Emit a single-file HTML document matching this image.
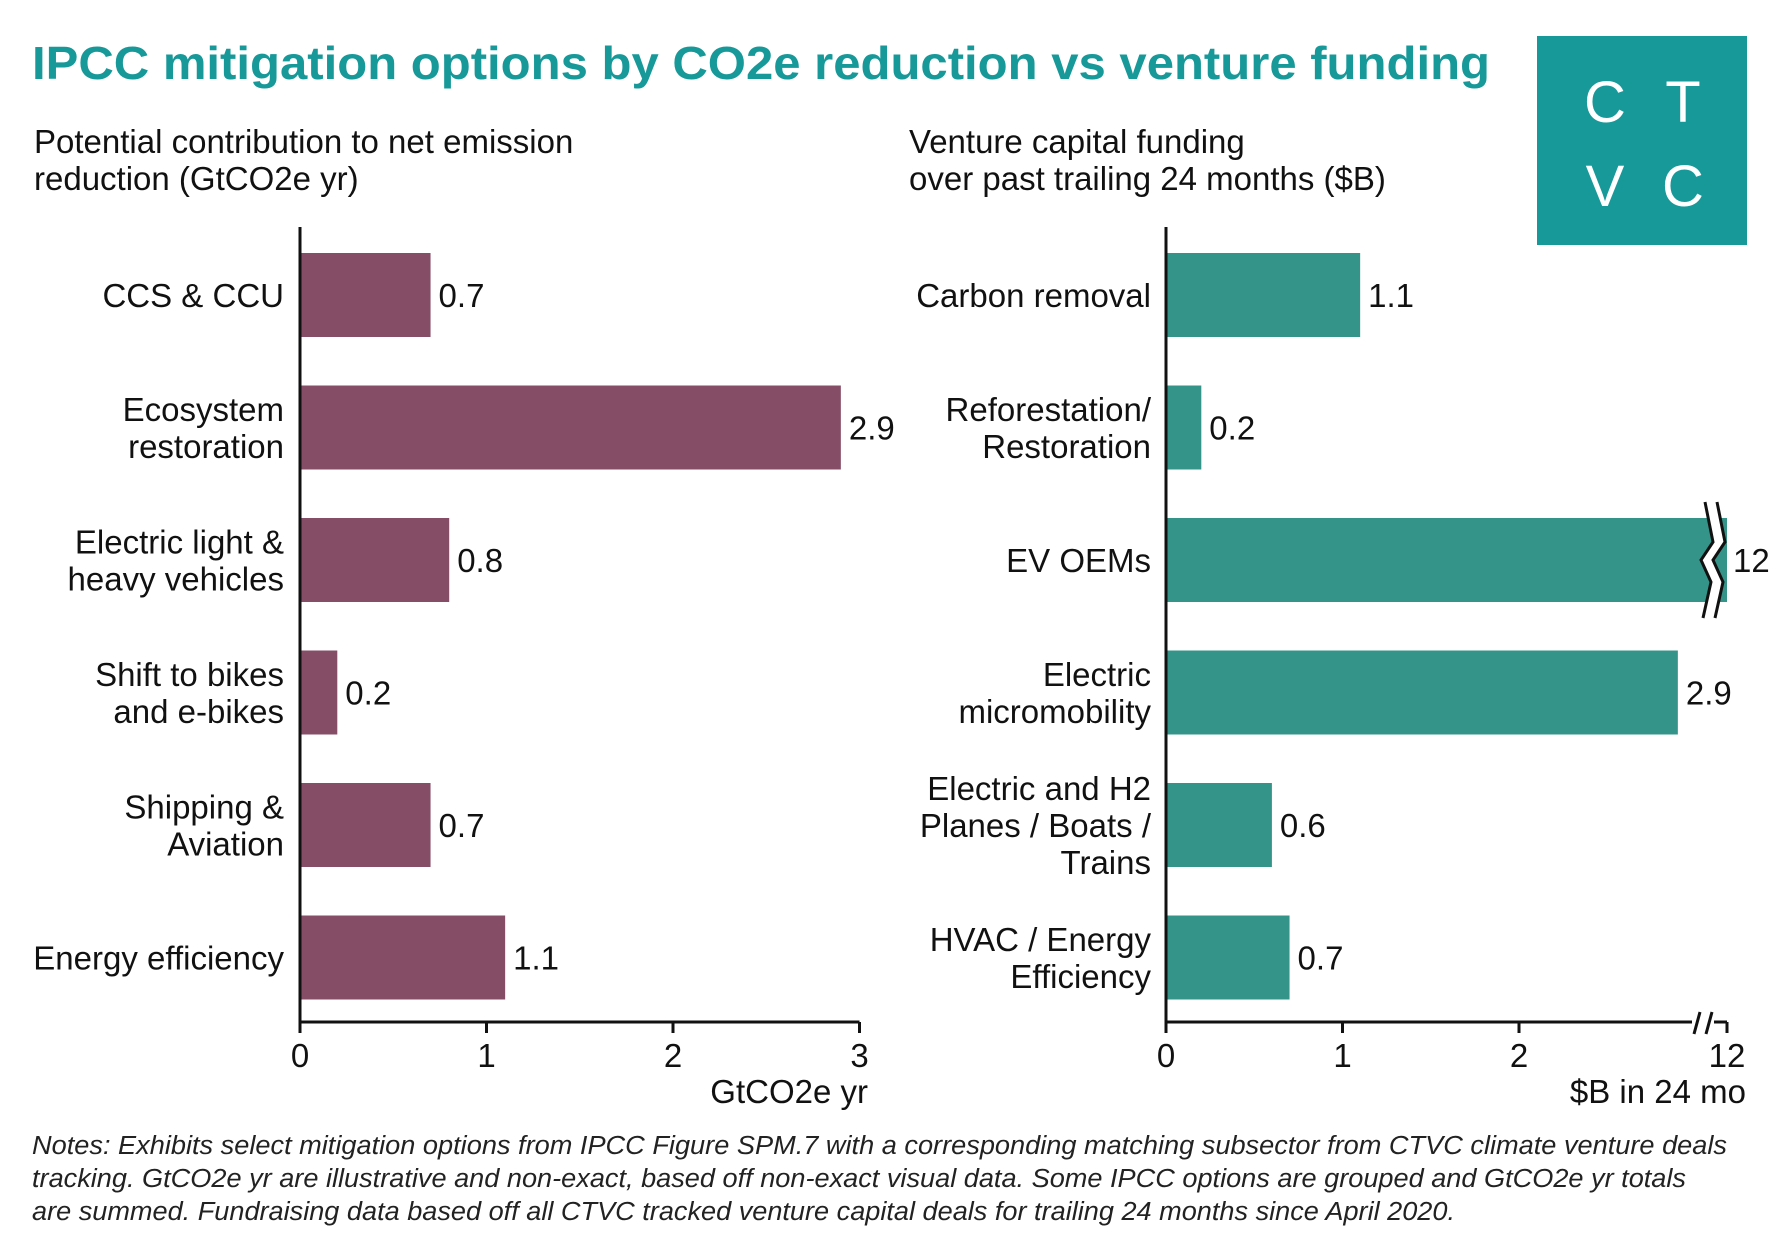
<!DOCTYPE html>
<html><head><meta charset="utf-8"><style>
html,body{margin:0;padding:0;background:#fff;}
svg{display:block;font-family:"Liberation Sans",Arial,sans-serif;}
</style></head><body>
<svg id="chart" width="1780" height="1250" viewBox="0 0 1780 1250">
<text x="32" y="79" font-size="46" font-weight="bold" fill="#17999a" textLength="1458" lengthAdjust="spacingAndGlyphs">IPCC mitigation options by CO2e reduction vs venture funding</text>
<g>
<rect x="1537" y="36" width="210" height="209" fill="#17999a"/>
<text x="1605" y="122" font-size="58" fill="#fff" text-anchor="middle">C</text>
<text x="1683" y="122" font-size="58" fill="#fff" text-anchor="middle">T</text>
<text x="1605" y="206" font-size="58" fill="#fff" text-anchor="middle">V</text>
<text x="1683" y="206" font-size="58" fill="#fff" text-anchor="middle">C</text>
</g>
<g font-size="33" fill="#111">
<text x="34" y="153">Potential contribution to net emission</text>
<text x="34" y="190">reduction (GtCO2e yr)</text>
<text x="909" y="153">Venture capital funding</text>
<text x="909" y="190">over past trailing 24 months ($B)</text>
</g>
<g font-size="25.5" font-style="italic" fill="#222">
<text x="32" y="1154" textLength="1695" lengthAdjust="spacingAndGlyphs">Notes: Exhibits select mitigation options from IPCC Figure SPM.7 with a corresponding matching subsector from CTVC climate venture deals</text>
<text x="32" y="1187" textLength="1654" lengthAdjust="spacingAndGlyphs">tracking. GtCO2e yr are illustrative and non-exact, based off non-exact visual data. Some IPCC options are grouped and GtCO2e yr totals</text>
<text x="32" y="1220" textLength="1423" lengthAdjust="spacingAndGlyphs">are summed. Fundraising data based off all CTVC tracked venture capital deals for trailing 24 months since April 2020.</text>
</g>
</svg>
<script>
const leftCategories = [["CCS & CCU"],["Ecosystem","restoration"],["Electric light &","heavy vehicles"],["Shift to bikes","and e-bikes"],["Shipping &","Aviation"],["Energy efficiency"]];
const leftValues = [0.7, 2.9, 0.8, 0.2, 0.7, 1.1];
const leftTicks = [0, 1, 2, 3];
const rightCategories = [["Carbon removal"],["Reforestation/","Restoration"],["EV OEMs"],["Electric","micromobility"],["Electric and H2","Planes / Boats /","Trains"],["HVAC / Energy","Efficiency"]];
const rightValues = [1.1, 0.2, 12, 2.9, 0.6, 0.7];
const rightTicks = [0, 1, 2, 12];

const NS = "http://www.w3.org/2000/svg";
const svg = document.getElementById('chart');
function mk(tag, attrs, parent){const e=document.createElementNS(NS,tag);for(const k in attrs)e.setAttribute(k,attrs[k]);(parent||svg).appendChild(e);return e;}

const barTop0 = 253, pitch = 132.5, barH = 84, axisY = 1022;
function yBand(i){return barTop0 + i*pitch;}
function xLeft(v){return 300 + v*186.5;}
function xRight(v){
  if (v <= 3) return 1166 + v*176.5;
  return 1166 + 3*176.5 + (v-3)/(12-3)*(1727-(1166+3*176.5));
}

function drawPanel(cats, vals, ticks, xf, axisX, color, key, labelRight, titleText, titleX, broken){
  const g = mk('g', {});
  
  
  vals.forEach((v,i)=>{
    const y = yBand(i);
    const xe = xf(v);
    const r = mk('rect',{x:axisX, y:y, width:xe-axisX, height:barH, fill:color}, g);
    
    
    const cy = y + barH/2;
    const t = mk('text',{x:xe+(v>3?6:8), y:cy+12, 'font-size':33, fill:'#111'}, g);
    t.textContent = String(v);
    
    
    const lines = cats[i];
    const lh = 37;
    const startY = cy + 12 - (lines.length-1)*lh/2;
    const ct = mk('text',{x:labelRight, y:startY, 'font-size':33, fill:'#111', 'text-anchor':'end'}, g);
    
    
    lines.forEach((ln,j)=>{const ts=mk('tspan',{x:labelRight, y:startY+j*lh}, ct); ts.textContent=ln;});
    if (v > 3) {
      const bx = xe - 26;
      const zz = (o)=>`M${bx+o+4},${y-16} L${bx+o+12},${cy-18} L${bx+o},${cy} L${bx+o+10},${cy+22} L${bx+o+2},${y+barH+16}`;
      const wf = mk('path',{d:zz(0)+` L${bx+13},${y+barH+16} `+`L${bx+22},${cy+22} L${bx+12},${cy} L${bx+24},${cy-18} L${bx+16},${y-16} Z`, fill:'#fff', stroke:'none'}, g);
      
      
      const z1 = mk('path',{d:zz(0), fill:'none', stroke:'#111', 'stroke-width':3}, g);
      
      
      const z2 = mk('path',{d:zz(12), fill:'none', stroke:'#111', 'stroke-width':3}, g);
      
      
    }
  });
  const ya = mk('line',{x1:axisX, y1:227, x2:axisX, y2:axisY, stroke:'#111', 'stroke-width':3}, g);
  
  
  const lastX = xf(ticks[ticks.length-1]);
  if (broken) {
    const xa = mk('path',{d:`M${axisX},${axisY} L${lastX-35},${axisY} M${lastX-13},${axisY} L${lastX},${axisY}`, stroke:'#111', 'stroke-width':3, fill:'none'}, g);
    
    
    const sl = mk('path',{d:`M${lastX-27},${axisY-10} L${lastX-33},${axisY+12} M${lastX-15},${axisY-10} L${lastX-21},${axisY+12}`, stroke:'#111', 'stroke-width':3, fill:'none'}, g);
    
    
  } else {
    const xa = mk('line',{x1:axisX, y1:axisY, x2:lastX, y2:axisY, stroke:'#111', 'stroke-width':3}, g);
    
    
  }
  ticks.forEach((tv,i)=>{
    const x = xf(tv);
    const tk = mk('line',{x1:x, y1:axisY, x2:x, y2:axisY+11, stroke:'#111', 'stroke-width':3}, g);
    
    
    const tl = mk('text',{x:x, y:1067, 'font-size':33, fill:'#111', 'text-anchor':'middle'}, g);
    tl.textContent = String(tv);
    
    
  });
  const at = mk('text',{x:titleX, y:1103, 'font-size':33, fill:'#111', 'text-anchor':'end'}, g);
  at.textContent = titleText;
  
  
}
drawPanel(leftCategories, leftValues, leftTicks, xLeft, 300, '#864d67', 'left', 284, 'GtCO2e yr', 868, false);
drawPanel(rightCategories, rightValues, rightTicks, xRight, 1166, '#359489', 'right', 1151, '$B in 24 mo', 1746, true);
</script>
</body></html>
